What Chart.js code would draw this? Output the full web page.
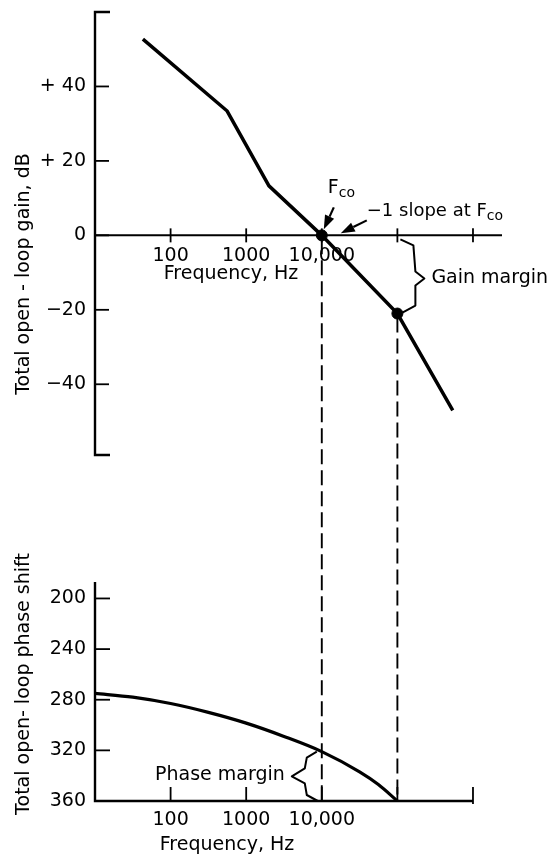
<!DOCTYPE html>
<html lang="en">
<head>
<meta charset="UTF-8">
<title>Open-loop gain and phase</title>
<script src="https://cdn.jsdelivr.net/npm/chart.js"></script>
<style>
  html, body { margin: 0; padding: 0; background: #fff; }
  #wrap { width: 547px; height: 854px; }
</style>
</head>
<body>
<div id="wrap"><canvas id="bodeChart" width="547" height="854"></canvas></div>
<script>
  // gain curve, straight line segments (Hz, dB)
  const gainFreq = [43, 560, 2000, 10000, 100000, 540000];
  const gainDb = [52.7, 33.4, 13.3, 0, -21, -47];

  // phase curve (Hz, degrees)
  const phaseFreq = [10, 31.6, 100, 316, 1000, 3162, 10000, 31623, 56000, 100000];
  const phaseDeg = [275, 278, 283, 290, 298.5, 309, 321, 337, 347, 360];

  // Fco and gain margin points
  const markFreq = [10000, 100000];
  const markGain = [0, -21];

  const freqTicks = [100, 1000, 10000, 100000, 1000000];
  const freqLabels = ['100', '1000', '10,000', '', ''];
  const gainTicks = [40, 20, 0, -20, -40];
  const gainLabels = ['+ 40', '+ 20', '0', '\u221220', '\u221240'];
  const phaseTicks = [200, 240, 280, 320, 360];
  const phaseLabels = ['200', '240', '280', '320', '360'];

  const gainAxisEnds = [-59, 60];
  const phaseAxisEnds = [187, 360];

  // pixel layout of the two panels inside one plot area
  const plotTop = 12, plotBottom = 801, gainBottomPx = 455, phaseTopPx = 582;
  const gainPerPx = (gainAxisEnds[1] - gainAxisEnds[0]) / (gainBottomPx - plotTop);
  const phasePerPx = (phaseAxisEnds[1] - phaseAxisEnds[0]) / (plotBottom - phaseTopPx);

  const FONT = '"DejaVu Sans", sans-serif';

  function poly(ctx, pts, w) {
    ctx.beginPath();
    ctx.moveTo(pts[0][0], pts[0][1]);
    for (let i = 1; i < pts.length; i++) ctx.lineTo(pts[i][0], pts[i][1]);
    ctx.lineWidth = w;
    ctx.stroke();
  }

  function arrow(ctx, x1, y1, x2, y2) {
    const a = Math.atan2(y2 - y1, x2 - x1);
    const len = 14, half = 5;
    const bx = x2 - len * Math.cos(a), by = y2 - len * Math.sin(a);
    poly(ctx, [[x1, y1], [bx, by]], 2.2);
    ctx.beginPath();
    ctx.moveTo(x2, y2);
    ctx.lineTo(bx + half * Math.sin(a), by - half * Math.cos(a));
    ctx.lineTo(bx - half * Math.sin(a), by + half * Math.cos(a));
    ctx.closePath();
    ctx.fill();
  }

  function withSub(ctx, text, x, y, size) {
    ctx.font = size + 'px ' + FONT;
    ctx.textAlign = 'left';
    ctx.textBaseline = 'alphabetic';
    ctx.fillText(text, x, y);
    const w = ctx.measureText(text).width;
    ctx.font = Math.round(size * 0.75) + 'px ' + FONT;
    ctx.fillText('co', x + w, y + 4);
  }

  function vText(ctx, text, x, y) {
    ctx.save();
    ctx.translate(x, y);
    ctx.rotate(-Math.PI / 2);
    ctx.textAlign = 'center';
    ctx.textBaseline = 'alphabetic';
    ctx.fillText(text, 0, 0);
    ctx.restore();
  }

  const bodeAxes = {
    id: 'bodeAxes',
    beforeDatasetsDraw(chart) {
      const {ctx, scales: {x, yG, yP}} = chart;
      const left = x.left;
      ctx.save();
      ctx.strokeStyle = '#000';
      ctx.fillStyle = '#000';

      // dashed drop lines from Fco and gain margin point to the phase axis
      ctx.setLineDash([15, 6]);
      markFreq.forEach((f, i) => {
        const px = x.getPixelForValue(f);
        poly(ctx, [[px, yG.getPixelForValue(markGain[i]) + 4], [px, yP.getPixelForValue(360)]], 1.9);
      });
      ctx.setLineDash([]);

      // gain panel
      const gTop = yG.getPixelForValue(gainAxisEnds[1]);
      const gBot = yG.getPixelForValue(gainAxisEnds[0]);
      poly(ctx, [[left + 15, gTop], [left, gTop], [left, gBot], [left + 15, gBot]], 2.4);
      const g0 = yG.getPixelForValue(0);
      poly(ctx, [[left, g0], [x.right, g0]], 2);
      ctx.font = '19px ' + FONT;
      ctx.textAlign = 'right';
      ctx.textBaseline = 'middle';
      gainTicks.forEach((v, i) => {
        const py = yG.getPixelForValue(v);
        poly(ctx, [[left, py], [left + 14, py]], 1.8);
        ctx.fillText(gainLabels[i], left - 9, py);
      });
      ctx.textAlign = 'center';
      freqTicks.forEach((f, i) => {
        const px = x.getPixelForValue(f);
        poly(ctx, [[px, g0 - 7], [px, g0 + 7]], 1.8);
        if (freqLabels[i]) ctx.fillText(freqLabels[i], px, g0 + 21);
      });
      ctx.fillText('Frequency, Hz', 231, g0 + 39);

      // phase panel
      const pTop = yP.getPixelForValue(phaseAxisEnds[0]);
      const pBot = yP.getPixelForValue(phaseAxisEnds[1]);
      const pRight = x.getPixelForValue(1000000);
      poly(ctx, [[left, pTop], [left, pBot], [pRight, pBot]], 2.4);
      ctx.textAlign = 'right';
      phaseTicks.forEach((v, i) => {
        const py = yP.getPixelForValue(v);
        if (v !== phaseAxisEnds[1]) poly(ctx, [[left, py], [left + 15, py]], 1.8);
        ctx.fillText(phaseLabels[i], left - 9, py);
      });
      ctx.textAlign = 'center';
      freqTicks.forEach((f, i) => {
        const px = x.getPixelForValue(f);
        const last = i === freqTicks.length - 1;
        poly(ctx, [[px, pBot - 14], [px, pBot + (last ? 3 : 0)]], 1.8);
        if (freqLabels[i]) ctx.fillText(freqLabels[i], px, pBot + 19);
      });
      ctx.fillText('Frequency, Hz', 227, pBot + 44);

      // axis titles
      ctx.font = '19px ' + FONT;
      vText(ctx, 'Total open - loop gain, dB', 29, 274);
      vText(ctx, 'Total open- loop phase shift', 29, 684);
      ctx.restore();
    },
    afterDatasetsDraw(chart) {
      const {ctx, scales: {x, yG, yP}} = chart;
      ctx.save();
      ctx.strokeStyle = '#000';
      ctx.fillStyle = '#000';
      ctx.lineJoin = 'round';

      // Fco label and arrows
      const cx = x.getPixelForValue(markFreq[0]);
      const cy = yG.getPixelForValue(markGain[0]);
      withSub(ctx, 'F', cx + 6, cy - 42, 19);
      arrow(ctx, cx + 12, cy - 28, cx + 2, cy - 6);
      withSub(ctx, '\u22121 slope at F', cx + 45, cy - 19, 18);
      arrow(ctx, cx + 45, cy - 15, cx + 19, cy - 2);

      // gain margin brace
      const gx = x.getPixelForValue(markFreq[1]);
      const gT = yG.getPixelForValue(0);
      const gB = yG.getPixelForValue(markGain[1]);
      const gM = (gT + gB) / 2 + 4;
      poly(ctx, [[gx + 3, gT + 4], [gx + 16, gT + 10], [gx + 18, gM - 7], [gx + 27, gM],
                 [gx + 18, gM + 7], [gx + 18, gB - 8], [gx + 5, gB - 1]], 2);
      ctx.font = '19px ' + FONT;
      ctx.textAlign = 'left';
      ctx.textBaseline = 'middle';
      ctx.fillText('Gain margin', gx + 34, gM);

      // phase margin brace
      const px = x.getPixelForValue(markFreq[0]);
      const pT = yP.getPixelForValue(phaseDeg[phaseFreq.indexOf(markFreq[0])]);
      const pB = yP.getPixelForValue(360);
      const pM = (pT + pB) / 2;
      poly(ctx, [[px - 5, pT], [px - 15, pT + 6], [px - 17, pM - 8], [px - 30, pM],
                 [px - 17, pM + 7], [px - 15, pB - 6], [px - 4, pB]], 2);
      ctx.textAlign = 'right';
      ctx.fillText('Phase margin', px - 37, pM - 1);
      ctx.restore();
    }
  };

  const bodeChart = new Chart(document.getElementById('bodeChart'), {
    type: 'line',
    data: {
      datasets: [
        {
          label: 'Margin points',
          data: markFreq.map((f, i) => ({x: f, y: markGain[i]})),
          yAxisID: 'yG',
          showLine: false,
          pointRadius: 5.5,
          pointBackgroundColor: '#000',
          pointBorderColor: '#000',
          order: 0
        },
        {
          label: 'Gain',
          data: gainFreq.map((f, i) => ({x: f, y: gainDb[i]})),
          yAxisID: 'yG',
          borderColor: '#000',
          borderWidth: 3.5,
          pointRadius: 0,
          tension: 0,
          order: 1
        },
        {
          label: 'Phase',
          data: phaseFreq.map((f, i) => ({x: f, y: phaseDeg[i]})),
          yAxisID: 'yP',
          borderColor: '#000',
          borderWidth: 3.2,
          pointRadius: 0,
          cubicInterpolationMode: 'monotone',
          order: 1
        }
      ]
    },
    options: {
      responsive: false,
      animation: false,
      layout: {padding: {left: 95, right: 45, top: plotTop, bottom: 854 - plotBottom}},
      plugins: {legend: {display: false}, tooltip: {enabled: false}},
      scales: {
        x: {type: 'logarithmic', min: 10, max: 2.42e6, display: false},
        yG: {
          type: 'linear',
          max: gainAxisEnds[1],
          min: gainAxisEnds[1] - gainPerPx * (plotBottom - plotTop),
          display: false
        },
        yP: {
          type: 'linear',
          reverse: true,
          max: phaseAxisEnds[1],
          min: phaseAxisEnds[1] - phasePerPx * (plotBottom - plotTop),
          display: false
        }
      }
    },
    plugins: [bodeAxes]
  });
</script>
</body>
</html>
